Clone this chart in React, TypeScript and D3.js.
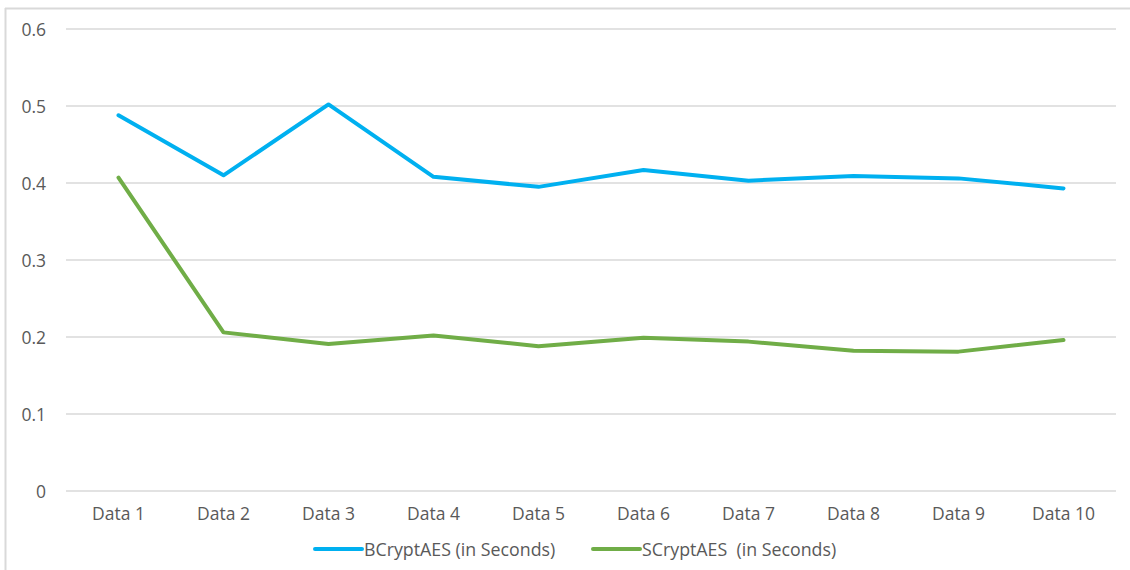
import * as d3 from "d3";

const categories = ["Data 1", "Data 2", "Data 3", "Data 4", "Data 5", "Data 6", "Data 7", "Data 8", "Data 9", "Data 10"];
const bcrypt = [0.488, 0.41, 0.502, 0.408, 0.395, 0.417, 0.403, 0.409, 0.406, 0.393];
const scrypt = [0.407, 0.206, 0.191, 0.202, 0.188, 0.199, 0.194, 0.182, 0.181, 0.196];
const yTicks = [0, 0.1, 0.2, 0.3, 0.4, 0.5, 0.6];

const series = [
  { name: "BCryptAES (in Seconds)", values: bcrypt, color: "#00b0f0" },
  { name: "SCryptAES  (in Seconds)", values: scrypt, color: "#70ad47" },
];

export default function App() {
  const width = 1130;
  const height = 570;
  const margin = { top: 29, right: 14, bottom: 79, left: 66 };
  const boundsWidth = width - margin.left - margin.right;
  const boundsHeight = height - margin.top - margin.bottom;

  const xScale = d3.scaleBand().domain(categories).range([0, boundsWidth]);
  const yScale = d3.scaleLinear().domain([0, 0.6]).range([boundsHeight, 0]);

  const line = d3
    .line<number>()
    .x((_, i) => (xScale(categories[i]) ?? 0) + xScale.bandwidth() / 2)
    .y((d) => yScale(d));

  const font = "'Open Sans', 'DejaVu Sans', sans-serif";
  const legendX = [315, 593];
  const fs = 17.5;

  return (
    <svg
      width={width}
      height={height}
      style={{ position: "absolute", left: 0, top: 0, background: "#fff" }}
      fontFamily={font}
    >
      {/* outer chart frame */}
      <line x1={5.5} x2={5.5} y1={8} y2={height} stroke="#d9d9d9" strokeWidth={2} />
      <line x1={5} x2={width} y1={8.5} y2={8.5} stroke="#d9d9d9" strokeWidth={2} />

      <g transform={`translate(${margin.left},${margin.top})`}>
        {yTicks.map((t) => (
          <g key={t}>
            <line x1={0} x2={boundsWidth} y1={yScale(t)} y2={yScale(t)} stroke="#d9d9d9" strokeWidth={1.5} />
            <text
              x={-20}
              y={yScale(t)}
              textAnchor="end"
              dominantBaseline="central"
              fontSize={fs}
              fill="#595959"
            >
              {t === 0 ? "0" : t.toFixed(1)}
            </text>
          </g>
        ))}

        {categories.map((c) => (
          <text
            key={c}
            x={(xScale(c) ?? 0) + xScale.bandwidth() / 2}
            y={boundsHeight + 22}
            textAnchor="middle"
            dominantBaseline="central"
            fontSize={fs}
            fill="#595959"
          >
            {c}
          </text>
        ))}

        {series.map((s) => (
          <path
            key={s.name}
            d={line(s.values) ?? ""}
            fill="none"
            stroke={s.color}
            strokeWidth={4}
            strokeLinejoin="round"
            strokeLinecap="round"
          />
        ))}
      </g>

      {series.map((s, i) => (
        <g key={s.name} transform={`translate(${legendX[i]},549)`}>
          <line x1={0} x2={47} y1={0} y2={0} stroke={s.color} strokeWidth={4} strokeLinecap="round" />
          <text x={49} y={0} dominantBaseline="central" fontSize={17.8} fill="#595959" style={{ whiteSpace: "pre" }}>
            {s.name}
          </text>
        </g>
      ))}
    </svg>
  );
}
